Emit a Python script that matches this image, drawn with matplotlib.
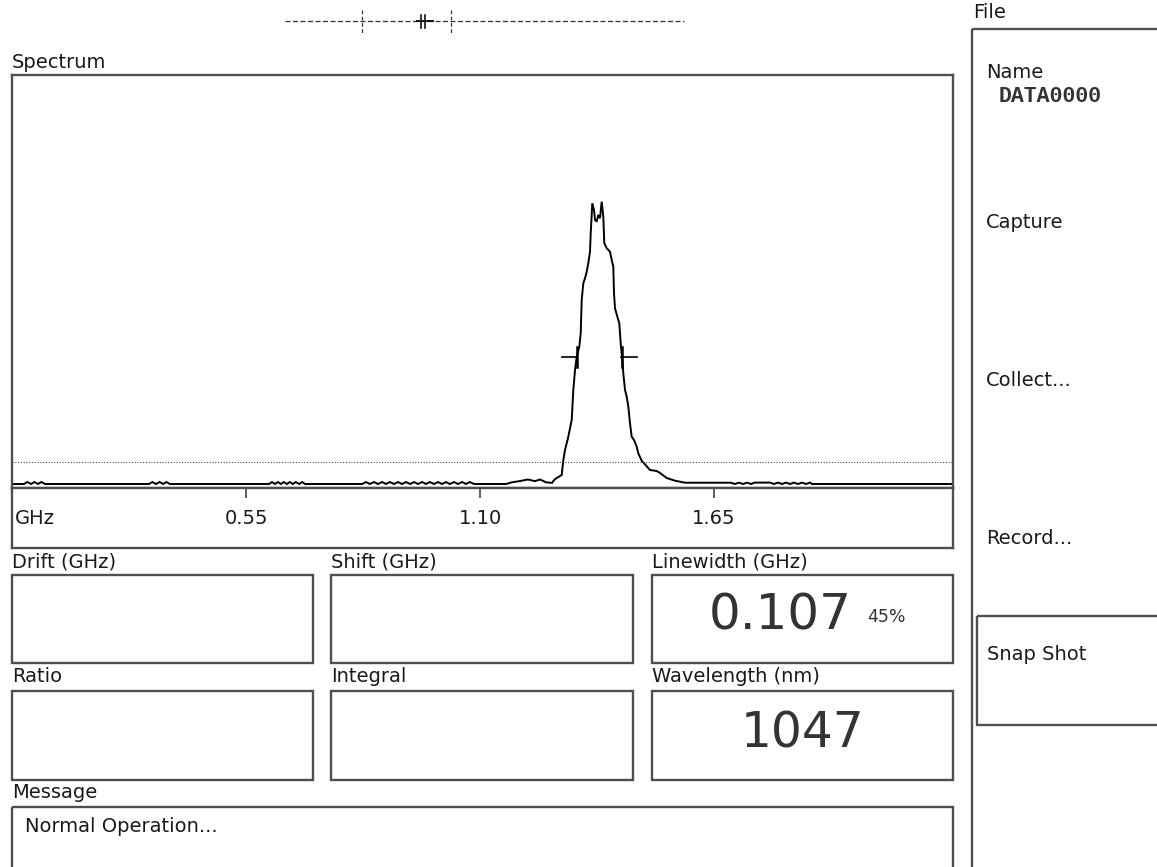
import matplotlib
matplotlib.use("Agg")
import matplotlib.pyplot as plt
from matplotlib.patches import Rectangle

# ---------------------------------------------------------------- data
# Spectrum trace: frequency offset (GHz) and level (% of peak)
freq_ghz = [
    0.000, 0.028, 0.036, 0.045, 0.053, 0.061, 0.069, 0.078,
    0.322, 0.330, 0.338, 0.347, 0.355, 0.363, 0.371,
    0.604, 0.611, 0.618, 0.625, 0.632, 0.639, 0.646, 0.653, 0.660, 0.667,
    0.675, 0.682, 0.689,
    0.823, 0.832, 0.841, 0.851, 0.860, 0.870, 0.879, 0.888, 0.898, 0.907,
    0.917, 0.926, 0.936, 0.945, 0.954, 0.964, 0.973, 0.982, 0.992, 1.001,
    1.011, 1.020, 1.029, 1.039, 1.048, 1.058, 1.067, 1.076, 1.086,
    1.161, 1.175, 1.192, 1.213, 1.229, 1.241, 1.255, 1.269, 1.276, 1.292,
    1.2958, 1.2998, 1.3075, 1.3155, 1.3193, 1.3233, 1.3273, 1.3334, 1.3367,
    1.3390, 1.3428, 1.3468, 1.3508, 1.3545, 1.3585, 1.3602, 1.3639, 1.3679,
    1.3703, 1.3743, 1.3780, 1.3820, 1.3860, 1.3898, 1.3921, 1.3978, 1.4055,
    1.4095, 1.4133, 1.4149, 1.4173, 1.4227, 1.4274, 1.4307, 1.4345, 1.4368,
    1.4408, 1.4448, 1.4486, 1.4525, 1.4565, 1.4619, 1.4683, 1.4720, 1.4800,
    1.4995, 1.5153, 1.5231, 1.5388, 1.5583, 1.5818, 1.6900,
    1.699, 1.709, 1.718, 1.728, 1.737, 1.746, 1.782, 1.791, 1.800, 1.810,
    1.819, 1.829, 1.838, 1.847, 1.857, 1.866, 1.876, 1.880, 2.212,
]
level_pct = [
    0.0, 0.0, 0.7, 0.0, 0.7, 0.0, 0.7, 0.0,
    0.0, 0.7, 0.0, 0.7, 0.0, 0.7, 0.0,
    0.0, 0.7, 0.0, 0.7, 0.0, 0.7, 0.0, 0.7, 0.0, 0.7,
    0.0, 0.7, 0.0,
    0.0, 0.7, 0.0, 0.7, 0.0, 0.7, 0.0, 0.7, 0.0, 0.7,
    0.0, 0.7, 0.0, 0.7, 0.0, 0.7, 0.0, 0.7, 0.0, 0.7,
    0.0, 0.7, 0.0, 0.7, 0.0, 0.7, 0.0, 0.7, 0.0,
    0.0, 0.6, 1.0, 1.6, 1.0, 1.6, 0.6, 0.4, 1.7, 3.2,
    8.48, 12.01, 16.71, 22.61, 33.22, 40.28, 44.98, 48.52, 53.25,
    65.02, 70.92, 72.69, 75.02, 77.99, 82.08, 88.59, 99.19, 96.82,
    93.29, 92.69, 95.05, 93.89, 99.75, 94.45, 85.05, 83.29, 82.08,
    79.15, 76.78, 67.39, 62.08, 59.12, 56.78, 49.72, 43.50, 39.12,
    33.22, 30.85, 27.31, 21.45, 16.71, 15.55, 13.18, 10.85, 8.23,
    4.95, 4.59, 3.89, 2.12, 1.17, 0.46, 0.46,
    0.0, 0.5, 0.0, 0.5, 0.0, 0.5, 0.5, 0.0, 0.5, 0.0,
    0.5, 0.0, 0.5, 0.0, 0.5, 0.0, 0.5, 0.0, 0.0,
]

freq_span_ghz = 2.2117          # full horizontal span of the display
tick_values = [0.55, 1.10, 1.65]
tick_labels = ["0.55", "1.10", "1.65"]
threshold_pct = 7.8             # detection threshold level
linewidth_level_pct = 45        # level at which linewidth is measured
linewidth_ghz = 0.107
linewidth_left_ghz = 1.327      # left edge of measured linewidth
wavelength_nm = 1047

menu_items = ["Capture", "Collect...", "Record..."]
readout_titles = ["Drift (GHz)", "Shift (GHz)", "Linewidth (GHz)",
                  "Ratio", "Integral", "Wavelength (nm)"]
status_message = "Normal Operation..."
file_name = "DATA0000"

# ---------------------------------------------------------------- layout
W, H = 1157, 867
fig = plt.figure(figsize=(W / 100, H / 100), dpi=100)
fig.patch.set_facecolor("white")

EDGE = "#4f4f4f"
TXT = "#1a1a1a"
LBL = 14

# full-figure pixel canvas for panels and labels
bg = fig.add_axes([0, 0, 1, 1])
bg.set_xlim(0, W)
bg.set_ylim(H, 0)
bg.axis("off")


def box(x0, y0, x1, y1):
    bg.add_patch(Rectangle((x0, y0), x1 - x0, y1 - y0, fill=False,
                           edgecolor=EDGE, linewidth=1.7, zorder=2))


def label(x, y, s, **kw):
    kw.setdefault("fontsize", LBL)
    kw.setdefault("color", TXT)
    bg.text(x, y, s, va="center", ha=kw.pop("ha", "left"), **kw)


def fig_rect(x0, y0, x1, y1):
    return [x0 / W, 1 - y1 / H, (x1 - x0) / W, (y1 - y0) / H]


# scan indicator along the top
bg.plot([285, 684], [21, 21], color="#333333", lw=0.9, ls=(0, (4, 2)))
for xv in (362, 451):
    bg.plot([xv, xv], [10, 33], color="#333333", lw=0.9, ls=(0, (3, 2)))
bg.plot([417, 433], [21, 21], color="#111111", lw=1.4)
for xv in (421, 425):
    bg.plot([xv, xv], [15, 28], color="#111111", lw=1.2)

# spectrum panel
label(12, 62, "Spectrum")
ax = fig.add_axes(fig_rect(12, 75, 953, 488))
ax.plot(freq_ghz, level_pct, color="black", lw=1.4, solid_joinstyle="miter")
ax.axhline(threshold_pct, color="#444444", lw=0.8, ls=(0, (1, 1.5)))
x_left = linewidth_left_ghz
x_right = linewidth_left_ghz + linewidth_ghz
arm = 0.035
ax.plot([x_left - arm, x_left + 0.002], [linewidth_level_pct] * 2,
        color="black", lw=1.2)
ax.plot([x_right - 0.002, x_right + arm], [linewidth_level_pct] * 2,
        color="black", lw=1.2)
for xv in (x_left, x_right):
    ax.plot([xv, xv], [linewidth_level_pct - 3.5, linewidth_level_pct + 3.5],
            color="black", lw=1.8)
ax.set_xlim(0, freq_span_ghz)
ax.set_ylim(-1.41, 144.5)
ax.set_xticks([])
ax.set_yticks([])
for sp in ax.spines.values():
    sp.set_color(EDGE)
    sp.set_linewidth(1.7)

# frequency scale strip
axs = fig.add_axes(fig_rect(12, 488, 953, 548))
axs.set_xlim(0, freq_span_ghz)
axs.set_ylim(0, 1)
axs.set_yticks([])
axs.set_xticks(tick_values)
axs.tick_params(axis="x", top=True, bottom=False, labelbottom=False,
                direction="in", length=7, width=1.1, colors="#333333")
for sp in axs.spines.values():
    sp.set_color(EDGE)
    sp.set_linewidth(1.7)
axs.text(0.003, 0.5, "GHz", transform=axs.transAxes, va="center",
         ha="left", fontsize=LBL, color=TXT)
for tv, tl in zip(tick_values, tick_labels):
    axs.text(tv, 0.5, tl, va="center", ha="center", fontsize=LBL, color=TXT)

# readout boxes
cols = [(12, 313), (331, 633), (652, 953)]
rows = [(562, 575, 663), (676, 691, 780)]
for r, (ly, y0, y1) in enumerate(rows):
    for c, (x0, x1) in enumerate(cols):
        label(x0, ly, readout_titles[r * 3 + c])
        box(x0, y0, x1, y1)

label(780, 616, f"{linewidth_ghz:.3f}", ha="center", fontsize=36,
      color="#333333")
label(867, 617, f"{linewidth_level_pct}%", fontsize=12.5, color="#333333")
label(802, 733, f"{wavelength_nm}", ha="center", fontsize=35,
      color="#333333")

# message area
label(12, 793, "Message")
box(12, 807, 953, 900)
label(25, 826, status_message)

# file menu panel
label(973, 13, "File")
box(972, 29, 1200, 900)
label(986, 73, "Name")
label(999, 96, file_name, fontsize=15.5, fontweight="bold",
      family="Liberation Mono", color="#333333")
for item, yv in zip(menu_items, (222, 380, 538)):
    label(986, yv, item)
box(977, 616, 1200, 725)
label(987, 655, "Snap Shot")

fig.savefig("out.png", dpi=100, facecolor="white")
